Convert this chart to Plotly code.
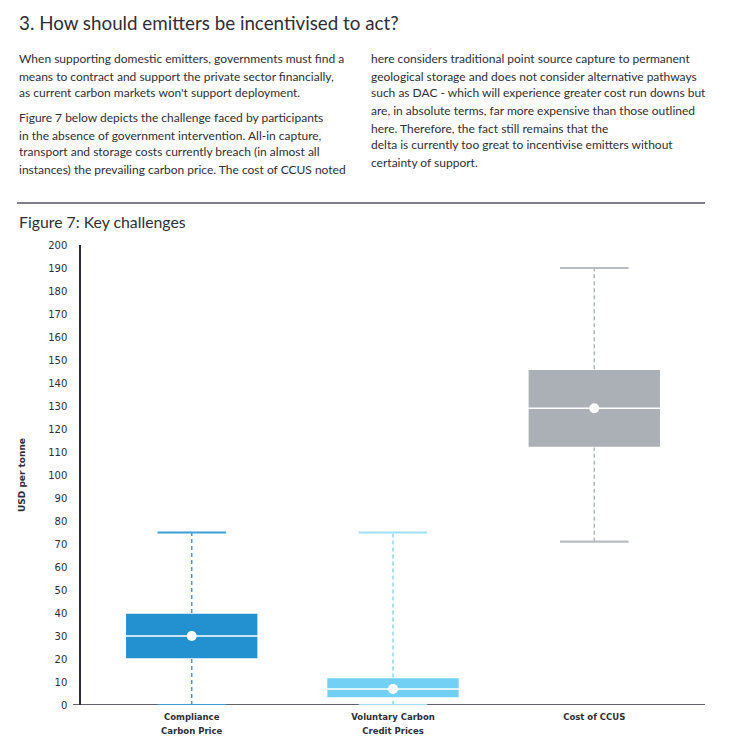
import plotly.graph_objects as go

# ---- data ----
categories = ["Compliance<br>Carbon Price", "Voluntary Carbon<br>Credit Prices", "Cost of CCUS"]
lower = [0, 0, 71]
q1 = [20, 3, 112]
median = [30, 7, 129]
q3 = [40, 12, 146]
upper = [75, 75, 190]
y_ticks = list(range(0, 201, 10))

fill_colors = ["#2391d0", "#72d0f4", "#aab0b5"]
whisker_colors = ["#3a9ad9", "#8ad8f8", "#b0b5ba"]
cap_colors = ["#3c9fdc", "#9ee0f9", "#b8bcc1"]

title_text = "3. How should emitters be incentivised to act?"
left_lines = [
    "When supporting domestic emitters, governments must find a",
    "means to contract and support the private sector financially,",
    "as current carbon markets won't support deployment.",
    "Figure 7 below depicts the challenge faced by participants",
    "in the absence of government intervention. All-in capture,",
    "transport and storage costs currently breach (in almost all",
    "instances) the prevailing carbon price. The cost of CCUS noted",
]
right_lines = [
    "here considers traditional point source capture to permanent",
    "geological storage and does not consider alternative pathways",
    "such as DAC - which will experience greater cost run downs but",
    "are, in absolute terms, far more expensive than those outlined",
    "here. Therefore, the fact still remains that the",
    "delta is currently too great to incentivise emitters without",
    "certainty of support.",
]
left_y = [59, 76, 93, 118, 135, 152, 170]
right_y = [59, 76, 93, 111, 128, 145, 162]

# ---- layout geometry (page pixels; page body has an 8px margin) ----
OFF = 8
PAGE_W, PAGE_H = 730, 746
W, H = PAGE_W - 2 * OFF, PAGE_H - 2 * OFF
PX0, PX1, PY0, PY1 = 81, 705, 245, 705  # plot area in page pixels
L, R, T, B = PX0 - OFF, W - (PX1 - OFF), PY0 - OFF, H - (PY1 - OFF)
PW, PH = PX1 - PX0, PY1 - PY0


def px(x):
    return (x - PX0) / PW


def py(y):
    return (PY1 - y) / PH


TEXT = "#2e2e38"
fig = go.Figure()

box_w = 0.66
cap_half = 0.17
for i, cat in enumerate(categories):
    fig.add_trace(go.Box(
        x=[i], q1=[q1[i]], median=[median[i]], q3=[q3[i]],
        lowerfence=[lower[i]], upperfence=[upper[i]],
        width=box_w, fillcolor=fill_colors[i],
        line=dict(color="white", width=1.5), whiskerwidth=0,
        boxpoints=False, hoverinfo="skip", showlegend=False,
    ))
    # dashed whiskers
    fig.add_trace(go.Scatter(
        x=[i, i, None, i, i], y=[lower[i], q1[i], None, q3[i], upper[i]],
        mode="lines", line=dict(color=whisker_colors[i], width=1.5, dash="4px,3px"),
        hoverinfo="skip", showlegend=False,
    ))
    # caps
    fig.add_trace(go.Scatter(
        x=[i - cap_half, i + cap_half, None, i - cap_half, i + cap_half],
        y=[lower[i], lower[i], None, upper[i], upper[i]],
        mode="lines", line=dict(color=cap_colors[i], width=2.2),
        hoverinfo="skip", showlegend=False,
    ))
    # median dot
    fig.add_trace(go.Scatter(
        x=[i], y=[median[i]], mode="markers",
        marker=dict(color="white", size=10, line=dict(width=0)),
        hoverinfo="skip", showlegend=False,
    ))

annotations = []
annotations.append(dict(text=title_text, x=px(17), y=py(23), xref="paper", yref="paper",
                        xanchor="left", yanchor="middle", showarrow=False,
                        font=dict(family="Lato", size=18.8, color=TEXT)))
for t, yy in zip(left_lines, left_y):
    annotations.append(dict(text=t, x=px(17), y=py(yy), xref="paper", yref="paper",
                            xanchor="left", yanchor="middle", showarrow=False,
                            font=dict(family="Lato", size=12, color=TEXT)))
for t, yy in zip(right_lines, right_y):
    annotations.append(dict(text=t, x=px(369), y=py(yy), xref="paper", yref="paper",
                            xanchor="left", yanchor="middle", showarrow=False,
                            font=dict(family="Lato", size=12, color=TEXT)))
annotations.append(dict(text="Figure 7: Key challenges", x=px(17), y=py(221), xref="paper", yref="paper",
                        xanchor="left", yanchor="middle", showarrow=False,
                        font=dict(family="Lato", size=15.8, color=TEXT)))
annotations.append(dict(text="<b>USD per tonne</b>", x=px(22), y=py(475), xref="paper", yref="paper",
                        xanchor="center", yanchor="middle", showarrow=False, textangle=-90,
                        font=dict(family="DejaVu Sans", size=9, color=TEXT)))

shapes = [
    dict(type="line", xref="paper", yref="paper", x0=px(17), x1=px(705), y0=py(203), y1=py(203),
         line=dict(color="#55555f", width=1.5)),
    dict(type="line", xref="paper", yref="y", x0=px(73), x1=px(705), y0=0, y1=0,
         line=dict(color="#2e2e38", width=1.5), layer="below"),
]


def tick_label(c):
    # small bold glyphs on a larger line pitch
    return "<br>".join("<b><span style='font-size:8.5px'>%s</span></b>" % part for part in c.split("<br>"))


fig.update_layout(
    width=W, height=H,
    margin=dict(l=L, r=R, t=T, b=B, pad=0),
    paper_bgcolor="white", plot_bgcolor="white",
    annotations=annotations, shapes=shapes,
    xaxis=dict(range=[-0.55, 2.55], tickmode="array", tickvals=list(range(len(categories))),
               ticktext=[tick_label(c) for c in categories], showgrid=False, zeroline=False,
               showline=False, ticks="", ticklabelstandoff=3, automargin=False,
               tickfont=dict(family="DejaVu Sans", size=10.8, color=TEXT),
               fixedrange=True),
    yaxis=dict(range=[0, 200], tickmode="array", tickvals=y_ticks, showgrid=False, zeroline=False,
               showline=True, linecolor="#2e2e38", linewidth=1.5, ticks="",
               ticklabelstandoff=10, automargin=False,
               tickfont=dict(family="DejaVu Sans", size=10, color=TEXT), fixedrange=True),
    boxgap=0, showlegend=False,
)

fig.write_html("out.html")
